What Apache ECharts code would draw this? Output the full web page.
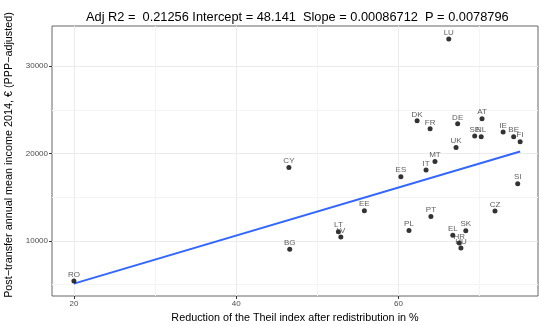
<!DOCTYPE html>
<html>
<head>
<meta charset="utf-8">
<script src="https://cdn.jsdelivr.net/npm/echarts@6/dist/echarts.min.js"></script>
<style>
  html, body { margin: 0; padding: 0; background: #fff; }
  #main { width: 539px; height: 325px; }
</style>
</head>
<body>
<div id="main"></div>
<script>
// countries and values
const countries = ['LU', 'DK', 'FR', 'DE', 'AT', 'SE', 'NL', 'IE', 'BE', 'FI', 'UK', 'MT', 'IT', 'ES', 'CY', 'SI', 'EE', 'CZ', 'PT', 'PL', 'SK', 'EL', 'LT', 'LV', 'HR', 'HU', 'BG', 'RO'];
const theilReduction = [66.2, 62.3, 63.9, 67.3, 70.3, 69.4, 70.2, 72.9, 74.2, 75.0, 67.1, 64.5, 63.4, 60.3, 46.5, 74.7, 55.8, 71.9, 64.0, 61.3, 68.3, 66.7, 52.6, 52.9, 67.5, 67.7, 46.6, 20.0];
const meanIncome = [33120, 23750, 22830, 23400, 23980, 22000, 21920, 22460, 21920, 21350, 20700, 19100, 18130, 17350, 18410, 16550, 13460, 13430, 12810, 11210, 11180, 10640, 11060, 10460, 9770, 9200, 9040, 5430];

// fitted line end points
const fitX = [20, 75];
const fitY = [5120, 20240];

const xTicks = [20, 40, 60];
const xMinor = [30, 50, 70];
const yTicks = [10000, 20000, 30000];
const yMinor = [5000, 15000, 25000];

const titleText = 'Adj R2 =  0.21256 Intercept = 48.141  Slope = 0.00086712  P = 0.0078796';

const font = 'Liberation Sans, Arial, Helvetica, sans-serif';

let points = countries.map((c, i) => [theilReduction[i], meanIncome[i], c]);

function gridLines(vals, key, color) {
	return vals.map(v => ({[key]: v, lineStyle: {color: color, width: 1, type: 'solid'}}));
}

let myChart = echarts.init(document.getElementById('main'), null, {renderer: 'canvas'});
let option = {
	animation: false,
	backgroundColor: '#fff',
	title: {
		text: titleText,
		left: 81,
		top: 6,
		textStyle: {fontFamily: font, fontSize: 12.8, fontWeight: 'normal', color: '#000'}
	},
	grid: {
		left: 52, right: 1, top: 26, bottom: 29,
		containLabel: false,
		outerBoundsMode: 'none',
		show: true,
		borderColor: '#666',
		borderWidth: 1,
		backgroundColor: '#fff'
	},
	xAxis: {
		type: 'value',
		min: 17.3,
		max: 77.2,
		name: 'Reduction of the Theil index after redistribution in %',
		nameLocation: 'middle',
		nameGap: 15,
		nameTextStyle: {fontFamily: font, fontSize: 10.8, color: '#000'},
		axisLine: {show: false},
		axisTick: {show: true, customValues: xTicks, length: 3, lineStyle: {color: '#333'}},
		axisLabel: {customValues: xTicks, margin: 4, fontFamily: font, fontSize: 8, color: '#4d4d4d'},
		splitLine: {show: false}
	},
	yAxis: {
		type: 'value',
		min: 3700,
		max: 34600,
		name: 'Post\u2212transfer annual mean income 2014, \u20ac (PPP\u2212adjusted)',
		nameLocation: 'middle',
		nameGap: 28,
		nameTextStyle: {fontFamily: font, fontSize: 10.8, color: '#000', padding: [0, 0, 0, 12]},
		axisLine: {show: false},
		axisTick: {show: true, customValues: yTicks, length: 3, lineStyle: {color: '#333'}},
		axisLabel: {customValues: yTicks, margin: 4, fontFamily: font, fontSize: 8, color: '#4d4d4d', formatter: v => String(v)},
		splitLine: {show: false}
	},
	series: [
		{
			// background grid lines
			type: 'line',
			data: [],
			silent: true,
			z: 1,
			markLine: {
				silent: true,
				z: 1,
				symbol: 'none',
				label: {show: false},
				animation: false,
				data: [].concat(
					gridLines(xMinor, 'xAxis', '#f4f4f4'),
					gridLines(yMinor, 'yAxis', '#f4f4f4'),
					gridLines(xTicks, 'xAxis', '#ebebeb'),
					gridLines(yTicks, 'yAxis', '#ebebeb')
				)
			}
		},
		{
			type: 'line',
			data: fitX.map((x, i) => [x, fitY[i]]),
			symbol: 'none',
			z: 3,
			lineStyle: {color: '#3366FF', width: 2}
		},
		{
			type: 'scatter',
			data: points,
			symbolSize: 5,
			z: 4,
			itemStyle: {color: '#000'},
			label: {
				show: true,
				position: 'top',
				distance: 0,
				formatter: p => p.data[2],
				fontFamily: font,
				fontSize: 8,
				color: '#333'
			}
		}
	]
};
myChart.setOption(option);
</script>
</body>
</html>
